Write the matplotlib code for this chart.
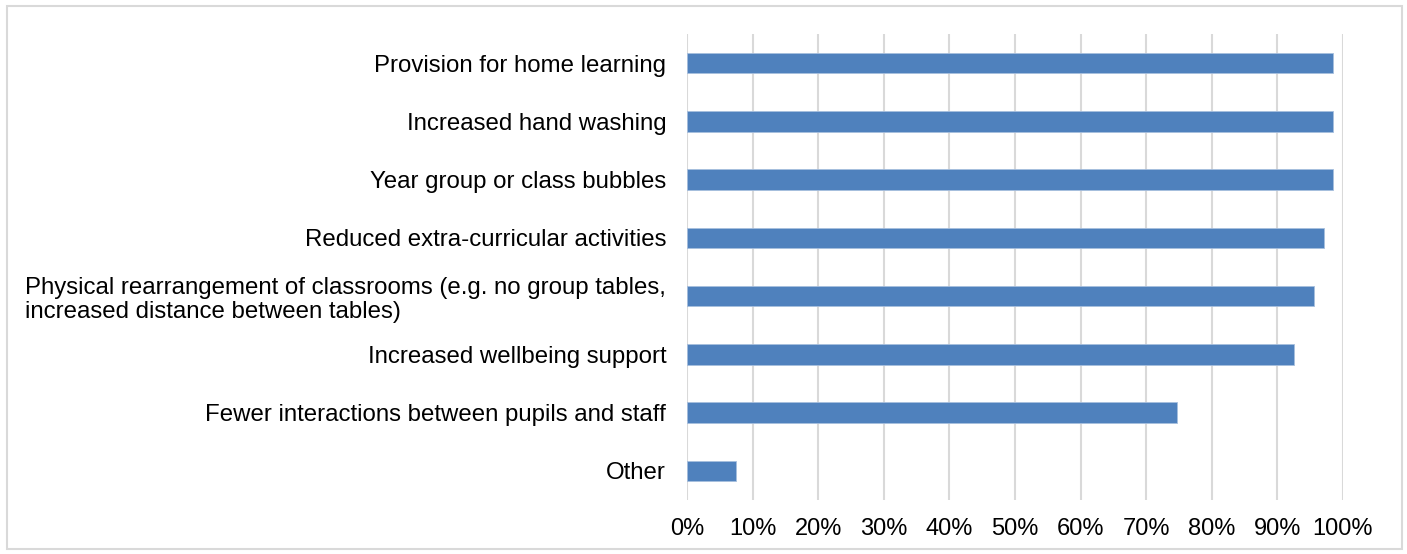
import numpy as np
import matplotlib.pyplot as plt
import matplotlib as mpl
from matplotlib.patches import Rectangle
from matplotlib.ticker import FuncFormatter

mpl.rcParams['font.family'] = ['Liberation Sans', 'DejaVu Sans']

# measures reported by schools (share of respondents)
measures = ['Provision for home learning',
            'Increased hand washing',
            'Year group or class bubbles',
            'Reduced extra-curricular activities',
            'Physical rearrangement of classrooms (e.g. no group tables,\nincreased distance between tables)',
            'Increased wellbeing support',
            'Fewer interactions between pupils and staff',
            'Other']
shares = [0.985, 0.985, 0.985, 0.971, 0.956, 0.925, 0.747, 0.074]

fig = plt.figure(figsize=(14.07, 5.54), dpi=100)
ax = fig.add_axes([687/1407, 1 - 500/554, (1343 - 687)/1407, (500 - 34)/554])

y = np.arange(len(measures))
ax.barh(y, shares, height=0.35, color='#4f81bd', edgecolor='#a7bfde', linewidth=0.6, zorder=3)

ax.set_xlim(0, 1)
ax.set_ylim(len(measures) - 0.5, -0.5)
ax.set_xticks(np.arange(0, 1.01, 0.1))
ax.xaxis.set_major_formatter(FuncFormatter(lambda v, p: '%d%%' % round(v * 100)))
ax.set_yticks(y)
ax.set_yticklabels(measures, multialignment='left', linespacing=1.15)
ax.tick_params(axis='y', length=0, labelsize=17.3, colors='#000000', pad=15)
ax.tick_params(axis='x', length=0, labelsize=17, colors='#000000', pad=13)
ax.grid(axis='x', color='#d9d9d9', linewidth=1.5, zorder=0)
for s in ax.spines.values():
    s.set_visible(False)

# chart frame
fig.patches.append(Rectangle((7/1407, 5/554), 1395/1407, 543/554, transform=fig.transFigure,
                             fill=False, edgecolor='#d9d9d9', linewidth=1.5))

plt.savefig('out.png', dpi=100)
